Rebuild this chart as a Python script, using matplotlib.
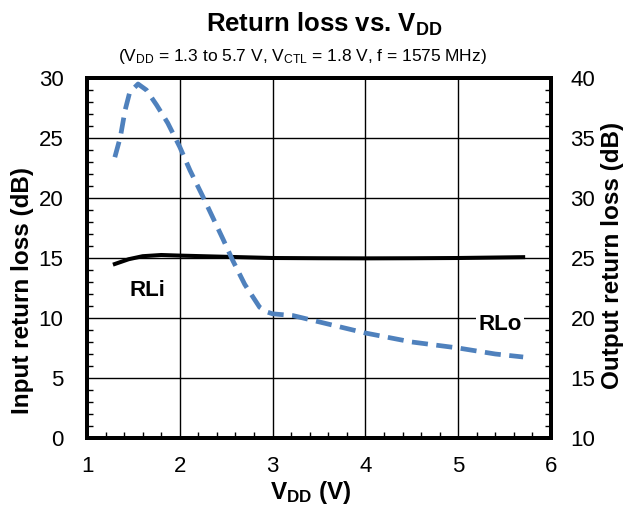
import matplotlib
matplotlib.use('Agg')
import matplotlib.pyplot as plt
from matplotlib.ticker import MultipleLocator

plt.rcParams['font.family'] = 'Liberation Sans'
plt.rcParams['mathtext.fontset'] = 'custom'
plt.rcParams['mathtext.rm'] = 'Liberation Sans'
plt.rcParams['mathtext.it'] = 'Liberation Sans'
plt.rcParams['mathtext.bf'] = 'Liberation Sans:bold'

#----------------------------------------------------#
# RLi (axa stanga) - input return loss
vdd_rli = [1.3, 1.45, 1.6, 1.8, 2.0, 2.5, 3.0, 3.5, 4.0, 4.5, 5.0, 5.5, 5.7]
rli = [14.5, 14.9, 15.15, 15.25, 15.2, 15.1, 15.0, 14.98, 14.97, 14.98, 15.0, 15.05, 15.07]

# RLo (axa dreapta) - output return loss
vdd_rlo = [1.3, 1.36, 1.41, 1.46, 1.55, 1.64, 1.75, 1.87, 2.0, 2.11, 2.25, 2.36,
           2.47, 2.57, 2.7, 2.86, 2.94, 3.0, 3.22, 3.65, 4.0, 4.5, 5.0, 5.4, 5.7]
rlo = [33.4, 35.1, 37.3, 38.8, 39.5, 39.0, 37.75, 36.25, 34.25, 32.3, 30.1, 28.3,
       26.5, 24.8, 22.8, 20.9, 20.5, 20.35, 20.2, 19.4, 18.75, 18.0, 17.5, 17.0, 16.75]

#----------------------------------------------------#
fig = plt.figure(figsize=(6.32, 5.07), dpi=100)
ax = fig.add_axes([87/632, 1 - 438/507, (551-87)/632, (438-78)/507])
ax2 = ax.twinx()

ax.plot(vdd_rli, rli, color='black', lw=2.9, zorder=3)
ax2.plot(vdd_rlo, rlo, color='#4F81BD', lw=3.4, dashes=(3.4, 1.8), zorder=3)

ax.set_xlim(1, 6)
ax.set_ylim(0, 30)
ax2.set_ylim(10, 40)
ax.xaxis.set_major_locator(MultipleLocator(1))
ax.xaxis.set_minor_locator(MultipleLocator(0.2))
ax.yaxis.set_major_locator(MultipleLocator(5))
ax.yaxis.set_minor_locator(MultipleLocator(1))
ax2.yaxis.set_major_locator(MultipleLocator(5))
ax2.yaxis.set_minor_locator(MultipleLocator(1))

ax.grid(True, which='major', color='black', lw=1.0)
ax.set_axisbelow(True)
for a in (ax, ax2):
    for s in a.spines.values():
        s.set_linewidth(2.8)
for a in (ax, ax2):
    a.tick_params(which='both', direction='in', labelsize=16)
    a.tick_params(which='major', length=0)
    a.tick_params(which='minor', length=4, width=1)
ax.tick_params(axis='x', pad=13)
ax.tick_params(axis='y', pad=17)
ax2.tick_params(axis='y', pad=14)

ax.text(1.65, 12.3, 'RLi', fontsize=16, fontweight='bold', ha='center', va='center')
ax.text(5.45, 9.5, 'RLo', fontsize=16, fontweight='bold', ha='center', va='center',
        bbox=dict(facecolor='white', edgecolor='none', pad=2), zorder=4)

ax.set_xlabel(r'$\mathbf{V_{DD}}$ (V)', fontsize=17.5, fontweight='bold')
ax.set_ylabel('Input return loss (dB)', fontsize=17.5, fontweight='bold')
ax2.set_ylabel('Output return loss (dB)', fontsize=17.5, fontweight='bold')
ax.xaxis.set_label_coords((311-87)/464, (438-493)/360)
ax.yaxis.set_label_coords((22-87)/464, (438-290)/360)
ax2.yaxis.set_label_coords((613-87)/464, (438-255)/360)
ax.xaxis.label.set_va('center')
ax.yaxis.label.set_va('center')
ax2.yaxis.label.set_va('center')

fig.text(324/632, 1 - 24/507, r'Return loss vs. $\mathbf{V_{DD}}$',
         fontsize=18.5, fontweight='bold', ha='center', va='center')
fig.text(302/632, 1 - 57/507,
         r'($V_{DD}$ = 1.3 to 5.7 V, $V_{CTL}$ = 1.8 V, f = 1575 MHz)',
         fontsize=12.5, ha='center', va='center')

fig.savefig('out.png', dpi=100)
